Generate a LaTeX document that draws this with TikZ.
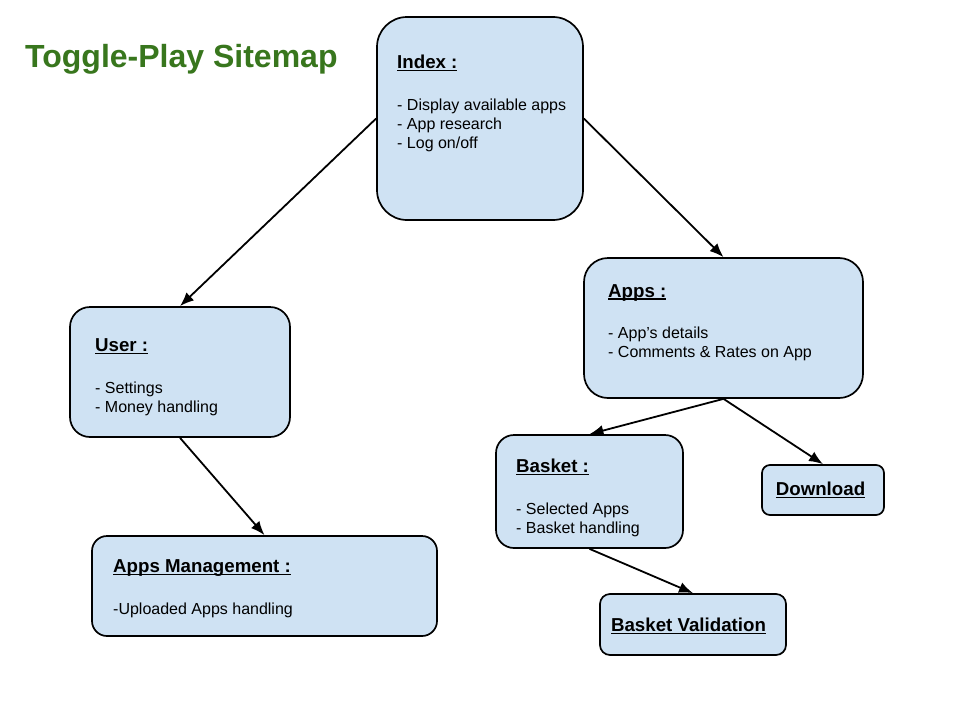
\documentclass[tikz,border=0pt]{standalone}
\usepackage{fontspec}
\setmainfont{Liberation Sans}
\usetikzlibrary{arrows.meta}
\definecolor{boxblue}{HTML}{CFE2F3}
\definecolor{titlegreen}{HTML}{38761D}
\newcommand\myul[1]{\setbox0\hbox{#1}\rlap{\rule[-2.8pt]{\wd0}{1.4pt}}\box0}
\begin{document}
\begin{tikzpicture}[x=1pt,y=-1pt,
  box/.style={draw=black, line width=1.7pt, fill=boxblue, inner sep=0pt, rectangle},
  head/.style={anchor=base west, inner sep=0pt, font=\fontsize{18.7}{21}\selectfont\bfseries},
  body/.style={anchor=base west, inner sep=0pt, font=\fontsize{16}{19}\selectfont, align=left},
  conn/.style={line width=1.8pt, -{Latex[length=14pt,width=11pt]}}]
\useasboundingbox[fill=white] (0,0) rectangle (960,720);
% title
\node[anchor=base west, inner sep=0pt, text=titlegreen, font=\fontsize{32}{36}\selectfont\bfseries] (title) at (25,67.5) {Toggle-Play Sitemap};
% boxes
\node[box, minimum width=206pt, minimum height=203pt, rounded corners=30pt] (index) at (480,118.5) {};
\node[box, minimum width=279pt, minimum height=140pt, rounded corners=24pt] (apps) at (723.5,328) {};
\node[box, minimum width=220pt, minimum height=130pt, rounded corners=20pt] (user) at (180,372) {};
\node[box, minimum width=345pt, minimum height=100pt, rounded corners=15pt] (appsm) at (264.5,586) {};
\node[box, minimum width=187pt, minimum height=113pt, rounded corners=18pt] (basket) at (589.5,491.5) {};
\node[box, minimum width=122pt, minimum height=50pt, rounded corners=8pt] (download) at (823,490) {};
\node[box, minimum width=186pt, minimum height=61pt, rounded corners=10pt] (bval) at (693,624.5) {};
% texts
\node[head] (indexh) at (397,68.5) {\myul{Index :}};
\node[body] (indext1) at (397,110) {- Display available apps};
\node[body] (indext2) at (397,129) {- App research};
\node[body] (indext3) at (397,148) {- Log on/off};
\node[head] (appsh) at (608,297) {\myul{Apps :}};
\node[body] (appst1) at (608,338) {- App’s details};
\node[body] (appst2) at (608,357) {- Comments \& Rates on App};
\node[head] (userh) at (95,351.5) {\myul{User :}};
\node[body] (usert1) at (95,393) {- Settings};
\node[body] (usert2) at (95,412) {- Money handling};
\node[head] (appsmh) at (113,572.5) {\myul{Apps Management :}};
\node[body] (appsmt1) at (113,614) {-Uploaded Apps handling};
\node[head] (basketh) at (516,472.5) {\myul{Basket :}};
\node[body] (baskett1) at (516,514) {- Selected Apps};
\node[body] (baskett2) at (516,533) {- Basket handling};
\node[head, anchor=base] (downloadh) at (820.5,495.5) {\myul{Download}};
\node[head, anchor=base] (bvalh) at (688.5,631.5) {\myul{Basket Validation}};
% connectors
\draw[conn] (index.west) -- (user.north);
\draw[conn] (index.east) -- (apps.north);
\draw[conn] (user.south) -- (appsm.north);
\draw[conn] (apps.south) -- (basket.north);
\draw[conn] (apps.south) -- (download.north);
\draw[conn] (basket.south) -- (bval.north);
\end{tikzpicture}
\end{document}
